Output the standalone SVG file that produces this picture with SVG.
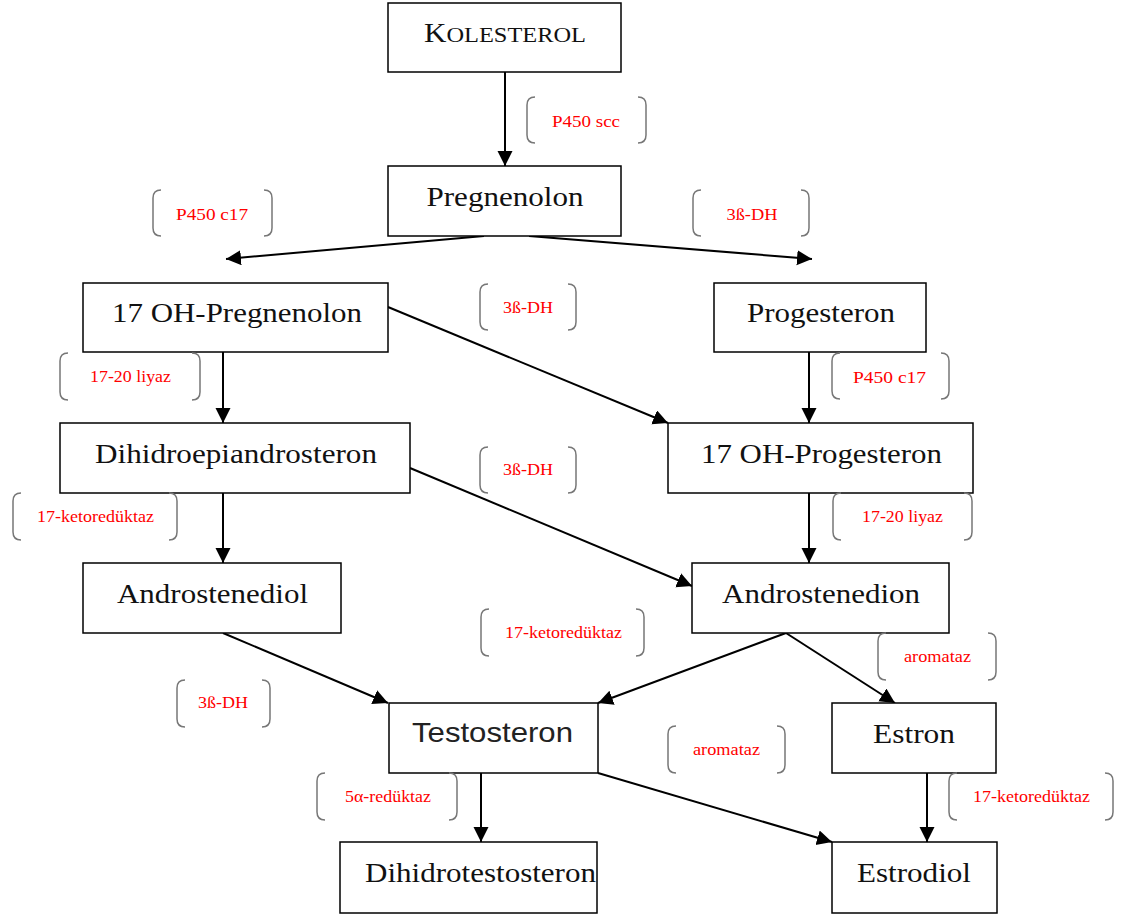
<svg xmlns="http://www.w3.org/2000/svg" width="1123" height="918" viewBox="0 0 1123 918">
<defs>
<style>
.box{fill:#fff;stroke:#000;stroke-width:1.5}
.nt{font-family:"Liberation Serif","Times New Roman",serif;font-size:28px;fill:#111;text-anchor:middle}
.ns{font-family:"Liberation Sans",Arial,sans-serif;font-size:28px;fill:#222;text-anchor:middle}
.lt{font-family:"Liberation Serif","Times New Roman",serif;font-size:17px;fill:#ff0000;text-anchor:middle}
.br{fill:none;stroke:#777;stroke-width:1.5}
.ar{fill:none;stroke:#000;stroke-width:2;marker-end:url(#ah)}
</style>
<marker id="ah" markerUnits="userSpaceOnUse" markerWidth="16" markerHeight="16" refX="15" refY="7.5" orient="auto">
<path d="M0,0 L15,7.5 L0,15 z" fill="#000"/>
</marker>
</defs>
<rect width="1123" height="918" fill="#fff"/>

<g id="connectors">
<line class="ar" x1="505" y1="72" x2="505" y2="166"/>
<line class="ar" x1="484" y1="236" x2="226" y2="259"/>
<line class="ar" x1="529" y1="236" x2="812" y2="259"/>
<line class="ar" x1="388" y1="307" x2="668" y2="423"/>
<line class="ar" x1="223" y1="352" x2="223" y2="423"/>
<line class="ar" x1="809" y1="352" x2="809" y2="423"/>
<line class="ar" x1="223" y1="493" x2="223" y2="563"/>
<line class="ar" x1="410" y1="468" x2="692" y2="586"/>
<line class="ar" x1="809" y1="493" x2="809" y2="563"/>
<line class="ar" x1="223" y1="633" x2="388" y2="703"/>
<line class="ar" x1="786" y1="633" x2="598" y2="703"/>
<line class="ar" x1="786" y1="633" x2="895" y2="703"/>
<line class="ar" x1="481" y1="773" x2="481" y2="842"/>
<line class="ar" x1="598" y1="773" x2="832" y2="842"/>
<line class="ar" x1="927" y1="773" x2="927" y2="842"/>
</g>

<g id="n-kolesterol"><rect class="box" x="388" y="3" width="233" height="69"/>
<text class="nt" x="505" y="42" textLength="162" lengthAdjust="spacingAndGlyphs"><tspan font-size="28">K</tspan><tspan font-size="22">OLESTEROL</tspan></text></g>
<g id="n-pregnenolon"><rect class="box" x="388" y="166" width="233" height="70"/>
<text class="nt" x="505" y="206" textLength="157" lengthAdjust="spacingAndGlyphs">Pregnenolon</text></g>
<g id="n-17ohpregnenolon"><rect class="box" x="83" y="283" width="305" height="69"/>
<text class="nt" x="237" y="322" textLength="250" lengthAdjust="spacingAndGlyphs">17 OH-Pregnenolon</text></g>
<g id="n-progesteron"><rect class="box" x="714" y="283" width="212" height="69"/>
<text class="nt" x="821" y="322" textLength="148" lengthAdjust="spacingAndGlyphs">Progesteron</text></g>
<g id="n-dhea"><rect class="box" x="60" y="423" width="350" height="70"/>
<text class="nt" x="236" y="463" textLength="282" lengthAdjust="spacingAndGlyphs">Dihidroepiandrosteron</text></g>
<g id="n-17ohprogesteron"><rect class="box" x="668" y="423" width="305" height="70"/>
<text class="nt" x="821.5" y="463" textLength="241" lengthAdjust="spacingAndGlyphs">17 OH-Progesteron</text></g>
<g id="n-androstenediol"><rect class="box" x="83" y="563" width="258" height="70"/>
<text class="nt" x="212.5" y="603" textLength="191" lengthAdjust="spacingAndGlyphs">Androstenediol</text></g>
<g id="n-androstenedion"><rect class="box" x="692" y="563" width="257" height="70"/>
<text class="nt" x="821" y="603" textLength="198" lengthAdjust="spacingAndGlyphs">Androstenedion</text></g>
<g id="n-testosteron"><rect class="box" x="389" y="703" width="209" height="70"/>
<text class="ns" x="492.5" y="742" textLength="161" lengthAdjust="spacingAndGlyphs">Testosteron</text></g>
<g id="n-estron"><rect class="box" x="832" y="703" width="164" height="70"/>
<text class="nt" x="914" y="743" textLength="82" lengthAdjust="spacingAndGlyphs">Estron</text></g>
<g id="n-dht"><rect class="box" x="340" y="842" width="257" height="71"/>
<text class="nt" x="480.5" y="882" textLength="231" lengthAdjust="spacingAndGlyphs">Dihidrotestosteron</text></g>
<g id="n-estrodiol"><rect class="box" x="832" y="842" width="165" height="71"/>
<text class="nt" x="914" y="882" textLength="114" lengthAdjust="spacingAndGlyphs">Estrodiol</text></g>

<g id="enzyme-labels">
<g id="l-p450scc"><path class="br" d="M535,97 Q527,97 527,105 L527,135 Q527,143 535,143 M638,97 Q646,97 646,105 L646,135 Q646,143 638,143"/>
<text class="lt" x="586" y="127" textLength="68" lengthAdjust="spacingAndGlyphs">P450 scc</text></g>
<g id="l-p450c17a"><path class="br" d="M161,190 Q153,190 153,198 L153,228 Q153,236 161,236 M264,190 Q272,190 272,198 L272,228 Q272,236 264,236"/>
<text class="lt" x="212" y="220" textLength="72" lengthAdjust="spacingAndGlyphs">P450 c17</text></g>
<g id="l-3bdh-a"><path class="br" d="M701,190 Q693,190 693,198 L693,228 Q693,236 701,236 M801,190 Q809,190 809,198 L809,228 Q809,236 801,236"/>
<text class="lt" x="752" y="220" textLength="51" lengthAdjust="spacingAndGlyphs">3ß-DH</text></g>
<g id="l-3bdh-b"><path class="br" d="M488,284 Q480,284 480,292 L480,322 Q480,330 488,330 M568,284 Q576,284 576,292 L576,322 Q576,330 568,330"/>
<text class="lt" x="528" y="313" textLength="50" lengthAdjust="spacingAndGlyphs">3ß-DH</text></g>
<g id="l-1720a"><path class="br" d="M68,353 Q60,353 60,361 L60,392 Q60,400 68,400 M192,353 Q200,353 200,361 L200,392 Q200,400 192,400"/>
<text class="lt" x="130.5" y="382" textLength="81" lengthAdjust="spacingAndGlyphs">17-20 liyaz</text></g>
<g id="l-p450c17b"><path class="br" d="M840,353 Q832,353 832,361 L832,391 Q832,399 840,399 M941,353 Q949,353 949,361 L949,391 Q949,399 941,399"/>
<text class="lt" x="889.5" y="383" textLength="73" lengthAdjust="spacingAndGlyphs">P450 c17</text></g>
<g id="l-3bdh-c"><path class="br" d="M488,447 Q480,447 480,455 L480,485 Q480,493 488,493 M568,447 Q576,447 576,455 L576,485 Q576,493 568,493"/>
<text class="lt" x="528" y="475" textLength="50" lengthAdjust="spacingAndGlyphs">3ß-DH</text></g>
<g id="l-17ketoa"><path class="br" d="M21,493 Q13,493 13,501 L13,532 Q13,540 21,540 M169,493 Q177,493 177,501 L177,532 Q177,540 169,540"/>
<text class="lt" x="95.5" y="522" textLength="117" lengthAdjust="spacingAndGlyphs">17-ketoredüktaz</text></g>
<g id="l-1720b"><path class="br" d="M841,493 Q833,493 833,501 L833,532 Q833,540 841,540 M964,493 Q972,493 972,501 L972,532 Q972,540 964,540"/>
<text class="lt" x="902.5" y="522" textLength="81" lengthAdjust="spacingAndGlyphs">17-20 liyaz</text></g>
<g id="l-17ketob"><path class="br" d="M489,609 Q481,609 481,617 L481,648 Q481,656 489,656 M636,609 Q644,609 644,617 L644,648 Q644,656 636,656"/>
<text class="lt" x="563.5" y="638" textLength="117" lengthAdjust="spacingAndGlyphs">17-ketoredüktaz</text></g>
<g id="l-aromataza"><path class="br" d="M886,633 Q878,633 878,641 L878,672 Q878,680 886,680 M988,633 Q996,633 996,641 L996,672 Q996,680 988,680"/>
<text class="lt" x="937.5" y="662" textLength="67" lengthAdjust="spacingAndGlyphs">aromataz</text></g>
<g id="l-3bdh-d"><path class="br" d="M185,680 Q177,680 177,688 L177,719 Q177,727 185,727 M262,680 Q270,680 270,688 L270,719 Q270,727 262,727"/>
<text class="lt" x="223" y="708" textLength="50" lengthAdjust="spacingAndGlyphs">3ß-DH</text></g>
<g id="l-aromatazb"><path class="br" d="M676,726 Q668,726 668,734 L668,765 Q668,773 676,773 M777,726 Q785,726 785,734 L785,765 Q785,773 777,773"/>
<text class="lt" x="726.5" y="755" textLength="67" lengthAdjust="spacingAndGlyphs">aromataz</text></g>
<g id="l-5ared"><path class="br" d="M325,773 Q317,773 317,781 L317,812 Q317,820 325,820 M449,773 Q457,773 457,781 L457,812 Q457,820 449,820"/>
<text class="lt" x="388" y="802" textLength="86" lengthAdjust="spacingAndGlyphs">5α-redüktaz</text></g>
<g id="l-17ketoc"><path class="br" d="M957,773 Q949,773 949,781 L949,812 Q949,820 957,820 M1105,773 Q1113,773 1113,781 L1113,812 Q1113,820 1105,820"/>
<text class="lt" x="1031.5" y="802" textLength="117" lengthAdjust="spacingAndGlyphs">17-ketoredüktaz</text></g>
</g>
</svg>
